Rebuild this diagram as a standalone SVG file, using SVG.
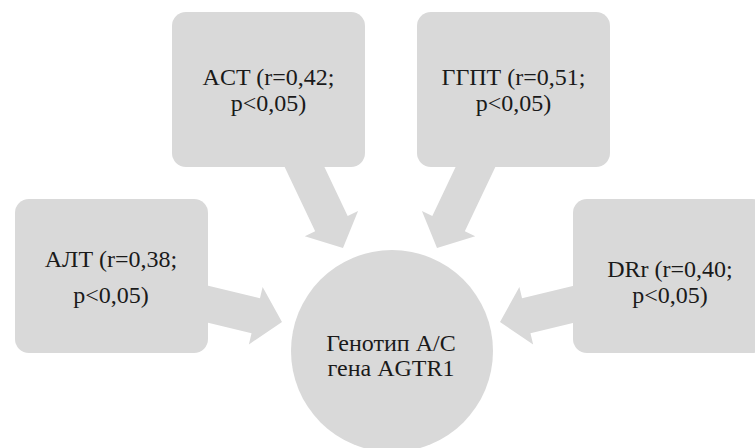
<svg xmlns="http://www.w3.org/2000/svg" width="755" height="448" viewBox="0 0 755 448">
<defs>
<style>
.n{fill:#d9d9d9}
.a{fill:#d9d9d9}
.t{font-family:"Liberation Serif","Times New Roman",Tinos,"DejaVu Serif",serif;font-size:24px;fill:#1a1a1a;text-anchor:middle}
</style>
<polygon id="arr" points="0,0 -27,-29.5 -27,-18 -110,-18 -110,18 -27,18 -27,29.5"/>
</defs>
<rect width="755" height="448" fill="#ffffff"/>
<g id="connectors">
<use href="#arr" class="a" transform="translate(343,248) rotate(64.6)"/>
<use href="#arr" class="a" transform="translate(437,248) rotate(115.4)"/>
<use href="#arr" class="a" transform="translate(282,322) rotate(13.5)"/>
<use href="#arr" class="a" transform="translate(500,322) rotate(166.5)"/>
</g>
<g id="node-act">
<rect class="n" x="172" y="12" width="193" height="155" rx="14"/>
<text class="t" x="268.5" y="85">ACT (r=0,42;</text>
<text class="t" x="268.5" y="111">p&lt;0,05)</text>
</g>
<g id="node-ggpt">
<rect class="n" x="417" y="12" width="193" height="155" rx="14"/>
<text class="t" x="513.5" y="85">ГГПТ (r=0,51;</text>
<text class="t" x="513.5" y="111">p&lt;0,05)</text>
</g>
<g id="node-alt">
<rect class="n" x="15" y="199" width="193" height="154" rx="14"/>
<text class="t" x="111" y="267">АЛТ (r=0,38;</text>
<text class="t" x="111" y="303">p&lt;0,05)</text>
</g>
<g id="node-drr">
<rect class="n" x="573" y="199" width="193" height="154" rx="14"/>
<text class="t" x="670" y="277">DRr (r=0,40;</text>
<text class="t" x="670" y="303">p&lt;0,05)</text>
</g>
<g id="node-center">
<circle class="n" cx="392" cy="351" r="101"/>
<text class="t" x="391" y="351">Генотип А/С</text>
<text class="t" x="391" y="376">гена AGTR1</text>
</g>
</svg>
